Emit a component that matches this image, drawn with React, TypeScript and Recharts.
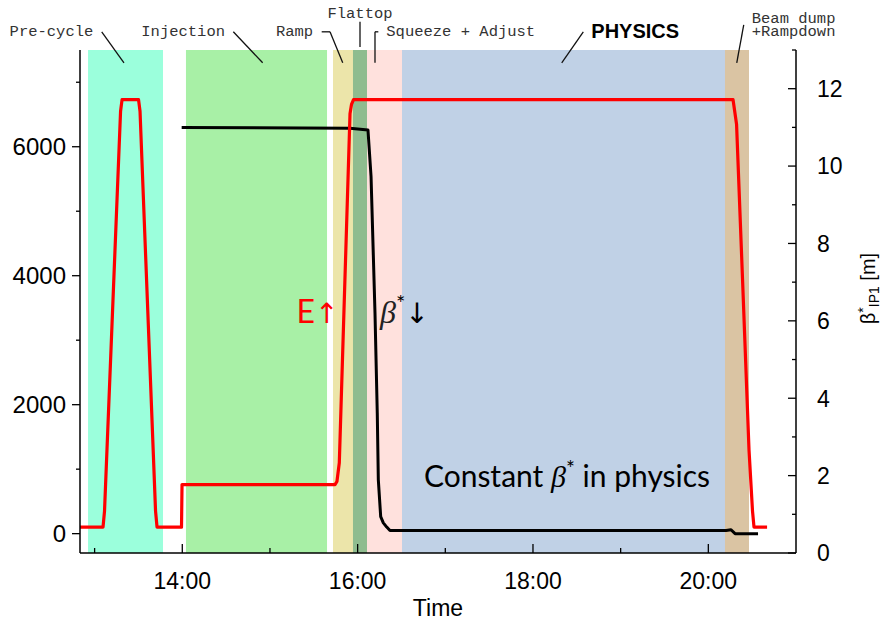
import React from 'react';
import { LineChart, Line, XAxis, YAxis, ReferenceArea, ReferenceLine, ReferenceDot } from 'recharts';

// time axis in decimal hours (12:50 -> 21:00)
const timeDomain = [12.8333, 21];
const hourTicks = [13, 14, 15, 16, 17, 18, 19, 20];
const hourLabels = ['', '14:00', '', '16:00', '', '18:00', '', '20:00'];
const energyTicks = [0, 1000, 2000, 3000, 4000, 5000, 6000, 7000];
const energyLabels = ['0', '', '2000', '', '4000', '', '6000', ''];
const betaTicks = [0, 1, 2, 3, 4, 5, 6, 7, 8, 9, 10, 11, 12, 13];

// beam energy [GeV]
const energyTime = [
  12.8333, 13.096, 13.113, 13.296, 13.313, 13.501, 13.518, 13.695, 13.712, 13.991, 13.997,
  15.742, 15.764, 15.791, 15.913, 15.93, 15.953, 20.282, 20.322, 20.39, 20.464, 20.504, 20.521, 20.67,
];
const energyGeV = [
  100, 100, 350, 6550, 6730, 6730, 6550, 350, 100, 100, 760,
  760, 809, 1100, 6510, 6656, 6730, 6730, 6350, 3950, 1300, 350, 100, 100,
];

// beta* at IP1 [m]
const betaTime = [
  13.993, 15.913, 16.118, 16.153, 16.198, 16.224, 16.236, 16.263, 16.293, 16.332, 16.369,
  20.202, 20.259, 20.305, 20.567,
];
const betaStar = [
  11.0, 10.98, 10.93, 9.73, 6.2, 3.62, 1.89, 0.94, 0.78, 0.67, 0.58,
  0.58, 0.6, 0.5, 0.5,
];

// machine cycle phases
const phaseNames = ['Pre-cycle', 'Injection', 'Ramp', 'Flattop', 'Squeeze + Adjust', 'PHYSICS', 'Beam dump'];
const phaseStart = [12.925, 14.042, 15.719, 15.947, 16.107, 16.506, 20.19];
const phaseEnd = [13.78, 15.651, 15.947, 16.107, 16.506, 20.19, 20.464];
const phaseColors = ['#9bffdc', '#a8f0a6', '#ece5aa', '#8fbc8f', '#ffe1dd', '#c0d1e6', '#dac4a3'];

// leader lines from phase names to bands (time, beta* axis units)
const leaderLines: number[][][] = [
  [[13.081, 13.47], [13.335, 12.67]],
  [[14.582, 13.47], [14.917, 12.67]],
  [[15.59, 13.47], [15.685, 13.47], [15.83, 12.67]],
  [[16.027, 13.73], [16.027, 13.08]],
  [[16.236, 13.47], [16.198, 13.47], [16.198, 12.67]],
  [[18.574, 13.47], [18.328, 12.67]],
  [[20.404, 13.65], [20.324, 12.67]],
];

const energyData = energyTime.map((t, i) => ({ t, v: energyGeV[i] }));
const betaData = betaTime.map((t, i) => ({ t, v: betaStar[i] }));

const sans = "'Liberation Sans', Arial, Helvetica, sans-serif";
const mono = "'Liberation Mono', 'Courier New', monospace";
const texSans = "Lato, 'Open Sans', sans-serif";
const mathIt = "'Liberation Serif', 'DejaVu Serif', serif";

function BottomTick(p: any) {
  const i = hourTicks.indexOf(p.payload.value);
  const major = hourLabels[i] !== '';
  return (
    <g>
      <line x1={p.x} x2={p.x} y1={p.y} y2={p.y - (major ? 9 : 5)} stroke="#000" strokeWidth={1.3} />
      {major && (
        <text x={p.x} y={p.y + 36} textAnchor="middle" fontSize={23} fontFamily={sans} fill="#000">
          {hourLabels[i]}
        </text>
      )}
    </g>
  );
}

function TopTick(p: any) {
  const i = hourTicks.indexOf(p.payload.value);
  const major = hourLabels[i] !== '';
  return <line x1={p.x} x2={p.x} y1={p.y} y2={p.y + (major ? 9 : 5)} stroke="#000" strokeWidth={1.3} />;
}

function LeftTick(p: any) {
  const i = energyTicks.indexOf(p.payload.value);
  const major = energyLabels[i] !== '';
  return (
    <g>
      <line x1={p.x} x2={p.x - (major ? 8 : 4)} y1={p.y} y2={p.y} stroke="#000" strokeWidth={1.3} />
      {major && (
        <text x={p.x - 14} y={p.y} dy="0.36em" textAnchor="end" fontSize={24} fontFamily={sans} fill="#000">
          {energyLabels[i]}
        </text>
      )}
    </g>
  );
}

function RightTick(p: any) {
  const v = p.payload.value;
  const major = v % 2 === 0;
  return (
    <g>
      <line x1={p.x} x2={p.x - (major ? 8 : 4)} y1={p.y} y2={p.y} stroke="#000" strokeWidth={1.3} />
      {major && (
        <text x={p.x + 21} y={p.y} dy="0.36em" textAnchor="start" fontSize={23} fontFamily={sans} fill="#000">
          {v}
        </text>
      )}
    </g>
  );
}

const BetaAxisLabel = (p: any) => {
  const vb = p.viewBox;
  const cx = vb.x + 79;
  const cy = vb.y + vb.height / 2 - 13;
  return (
    <text transform={`rotate(-90, ${cx}, ${cy})`} x={cx} y={cy} textAnchor="middle" fontSize={20} fontFamily={sans} fill="#000">
      β<tspan dy={-7} fontSize={14}>*</tspan>
      <tspan dy={11} fontSize={14}>IP1</tspan>
      <tspan dy={-4}> [m]</tspan>
    </text>
  );
};

const TimeLabel = (p: any) => {
  const vb = p.viewBox;
  return (
    <text x={vb.x + vb.width / 2} y={vb.y + 63} textAnchor="middle" fontSize={23} fontFamily={sans} fill="#000">
      Time
    </text>
  );
};

const monoNote = (text: string, dx: number, dy: number, anchor: string) => (p: any) => (
  <text x={p.cx + dx} y={p.cy + dy} textAnchor={anchor} fontSize={15.5} fontFamily={mono} fill="#333">
    {text}
  </text>
);

export default function App() {
  return (
    <div style={{ position: 'absolute', left: 0, top: 0, width: 892, height: 620, background: '#fff' }}>
      <LineChart width={892} height={620} margin={{ top: 50, right: 0, bottom: 0, left: 0 }}>
        <XAxis
          dataKey="t"
          type="number"
          domain={timeDomain}
          allowDataOverflow
          ticks={hourTicks}
          interval={0}
          height={67}
          tickSize={0}
          tickMargin={0}
          tickLine={false}
          axisLine={{ stroke: '#000', strokeWidth: 1.5 }}
          tick={(p: any) => <BottomTick {...p} />}
          label={{ content: TimeLabel }}
        />
        <XAxis
          xAxisId="top"
          orientation="top"
          dataKey="t"
          type="number"
          domain={timeDomain}
          allowDataOverflow
          ticks={hourTicks}
          interval={0}
          height={0}
          tickSize={0}
          tickMargin={0}
          tickLine={false}
          axisLine={{ stroke: '#000', strokeWidth: 1.5 }}
          tick={(p: any) => <TopTick {...p} />}
        />
        <YAxis
          yAxisId="left"
          type="number"
          domain={[-300, 7500]}
          allowDataOverflow
          ticks={energyTicks}
          interval={0}
          width={80}
          tickSize={0}
          tickMargin={0}
          tickLine={false}
          axisLine={{ stroke: '#000', strokeWidth: 1.5 }}
          tick={(p: any) => <LeftTick {...p} />}
        />
        <YAxis
          yAxisId="right"
          orientation="right"
          type="number"
          domain={[0, 13]}
          allowDataOverflow
          ticks={betaTicks}
          interval={0}
          width={96}
          tickSize={0}
          tickMargin={0}
          tickLine={false}
          axisLine={{ stroke: '#000', strokeWidth: 1.5 }}
          tick={(p: any) => <RightTick {...p} />}
          label={{ content: BetaAxisLabel }}
        />

        {phaseNames.map((name, i) => (
          <ReferenceArea
            key={name}
            yAxisId="left"
            x1={phaseStart[i]}
            x2={phaseEnd[i]}
            fill={phaseColors[i]}
            fillOpacity={1}
            stroke="none"
          />
        ))}

        <Line
          yAxisId="right"
          data={betaData}
          dataKey="v"
          type="linear"
          stroke="#000"
          strokeWidth={3}
          dot={false}
          activeDot={false}
          strokeLinejoin="round"
          isAnimationActive={false}
        />
        <Line
          yAxisId="left"
          data={energyData}
          dataKey="v"
          type="linear"
          stroke="#ff0000"
          strokeWidth={3.2}
          dot={false}
          activeDot={false}
          strokeLinejoin="round"
          isAnimationActive={false}
        />

        {leaderLines.flatMap((pts, i) =>
          pts.slice(1).map((pt, j) => (
            <ReferenceLine
              key={`ld-${i}-${j}`}
              yAxisId="right"
              segment={[
                { x: pts[j][0], y: pts[j][1] },
                { x: pt[0], y: pt[1] },
              ]}
              stroke="#111"
              strokeWidth={1.3}
              ifOverflow="visible"
            />
          ))
        )}

        <ReferenceDot yAxisId="right" x={leaderLines[0][0][0]} y={leaderLines[0][0][1]} r={0} ifOverflow="visible" shape={monoNote('Pre-cycle', -8.4, 4.5, 'end')} />
        <ReferenceDot yAxisId="right" x={leaderLines[1][0][0]} y={leaderLines[1][0][1]} r={0} ifOverflow="visible" shape={monoNote('Injection', -8.3, 4.5, 'end')} />
        <ReferenceDot yAxisId="right" x={leaderLines[2][0][0]} y={leaderLines[2][0][1]} r={0} ifOverflow="visible" shape={monoNote('Ramp', -8.5, 4.5, 'end')} />
        <ReferenceDot yAxisId="right" x={leaderLines[3][0][0]} y={leaderLines[3][0][1]} r={0} ifOverflow="visible" shape={monoNote('Flattop', 0, -3.5, 'middle')} />
        <ReferenceDot yAxisId="right" x={leaderLines[4][0][0]} y={leaderLines[4][0][1]} r={0} ifOverflow="visible" shape={monoNote('Squeeze + Adjust', 8, 4.5, 'start')} />
        <ReferenceDot
          yAxisId="right"
          x={leaderLines[5][0][0]}
          y={leaderLines[5][0][1]}
          r={0}
          ifOverflow="visible"
          shape={(p: any) => (
            <text x={p.cx + 8} y={p.cy + 6.5} fontSize={20} fontWeight="bold" fontFamily={sans} fill="#000">
              PHYSICS
            </text>
          )}
        />
        <ReferenceDot
          yAxisId="right"
          x={leaderLines[6][0][0]}
          y={leaderLines[6][0][1]}
          r={0}
          ifOverflow="visible"
          shape={(p: any) => (
            <text x={p.cx + 8} y={p.cy - 2} fontSize={15.5} fontFamily={mono} fill="#333">
              Beam dump
              <tspan x={p.cx + 8} dy={13.6}>+Rampdown</tspan>
            </text>
          )}
        />

        <ReferenceDot
          yAxisId="right"
          x={15.542}
          y={5.94}
          r={0}
          ifOverflow="visible"
          shape={(p: any) => (
            <text x={p.cx} y={p.cy} textAnchor="middle" fontSize={32} fontFamily={texSans} fill="#ff0000">
              E<tspan fontFamily="'DejaVu Sans', sans-serif" fontSize={28}>↑</tspan>
            </text>
          )}
        />
        <ReferenceDot
          yAxisId="right"
          x={16.255}
          y={5.94}
          r={0}
          ifOverflow="visible"
          shape={(p: any) => (
            <text x={p.cx} y={p.cy} fontSize={32} fontFamily={texSans} fill="#000">
              <tspan fontFamily={mathIt} fontStyle="italic" fill="#222">β</tspan>
              <tspan dy={-12} fontSize={22}>*</tspan>
              <tspan dy={12} fontFamily="'DejaVu Sans', sans-serif" fontSize={28}>↓</tspan>
            </text>
          )}
        />
        <ReferenceDot
          yAxisId="right"
          x={18.388}
          y={1.71}
          r={0}
          ifOverflow="visible"
          shape={(p: any) => (
            <text x={p.cx} y={p.cy} textAnchor="middle" fontSize={30} fontFamily={texSans} fill="#000">
              Constant <tspan fontFamily={mathIt} fontStyle="italic">β</tspan>
              <tspan dy={-11} fontSize={21}>*</tspan>
              <tspan dy={11}> in physics</tspan>
            </text>
          )}
        />
      </LineChart>
    </div>
  );
}
